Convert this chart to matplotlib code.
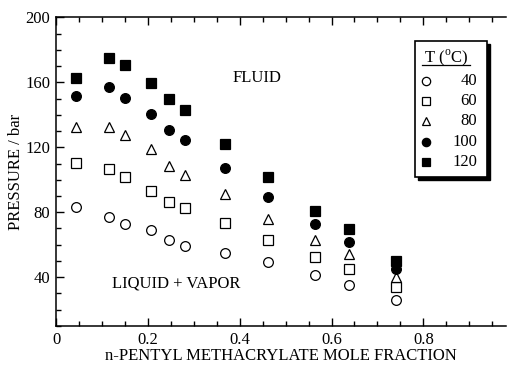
import matplotlib
matplotlib.use("Agg")
import matplotlib.pyplot as plt
from matplotlib.patches import Rectangle
from matplotlib.ticker import MultipleLocator

plt.rcParams['font.family'] = ['Liberation Serif', 'DejaVu Serif']
plt.rcParams['mathtext.fontset'] = 'custom'
plt.rcParams['mathtext.rm'] = 'Liberation Serif'

# mole fraction of n-pentyl methacrylate
x = [0.043, 0.115, 0.151, 0.207, 0.246, 0.281, 0.369, 0.462, 0.565, 0.639, 0.741]

# pressure (bar) for each temperature
p40 = [83.0, 76.8, 72.9, 68.9, 62.7, 59.3, 54.6, 49.3, 41.3, 35.5, 26.1]
p60 = [110.5, 106.5, 101.4, 93.0, 86.4, 82.8, 73.1, 63.1, 52.3, 44.8, 34.2]
p80 = [132.7, 132.7, 127.6, 119.1, 108.3, 103.1, 91.3, 75.9, 62.7, 54.0, 40.1]
p100 = [151.6, 156.8, 150.2, 140.5, 130.9, 124.6, 107.2, 89.6, 72.7, 61.7, 44.8]
p120 = [162.9, 175.0, 170.6, 159.8, 149.6, 143.1, 121.7, 101.8, 81.0, 69.8, 49.9]

temps = ["40", "60", "80", "100", "120"]
series = [p40, p60, p80, p100, p120]
markers = ["o", "s", "^", "o", "s"]
faces = ["white", "white", "white", "black", "black"]
sizes = [7, 7, 7.5, 7, 7]

fig = plt.figure(figsize=(5.07, 3.65), dpi=100)
ax = fig.add_axes([0.1105, 0.107, 0.8875, 0.8456])

for p, m, fc, ms in zip(series, markers, faces, sizes):
    ax.plot(x, p, linestyle="none", marker=m, markersize=ms,
            markerfacecolor=fc, markeredgecolor="black", markeredgewidth=0.9,
            clip_on=False)

ax.set_xlim(0, 0.98)
ax.set_ylim(10, 200)
ax.xaxis.set_major_locator(MultipleLocator(0.2))
ax.xaxis.set_minor_locator(MultipleLocator(0.05))
ax.yaxis.set_major_locator(MultipleLocator(40))
ax.yaxis.set_minor_locator(MultipleLocator(10))
ax.set_xticks([0, 0.2, 0.4, 0.6, 0.8])
ax.set_xticklabels(["0", "0.2", "0.4", "0.6", "0.8"])
ax.set_yticks([40, 80, 120, 160, 200])

ax.spines['right'].set_visible(False)
for s in ['left', 'top', 'bottom']:
    ax.spines[s].set_linewidth(1.1)
ax.tick_params(which='both', direction='in', top=True, right=False,
               labelsize=12, width=1)
ax.tick_params(which='major', length=6, pad=4)
ax.tick_params(which='minor', length=3.5)

ax.set_xlabel("n-PENTYL METHACRYLATE MOLE FRACTION", fontsize=12, labelpad=0)
ax.set_ylabel("PRESSURE / bar", fontsize=12, labelpad=1)

ax.text(0.437, 162.4, "FLUID", fontsize=12, ha="center", va="center")
ax.text(0.262, 36.0, "LIQUID + VAPOR", fontsize=12, ha="center", va="center")

# legend box drawn by hand (black drop shadow, underlined title)
tr = ax.transAxes
bx0, by0, bw, bh = 0.798, 0.483, 0.160, 0.440
ax.add_patch(Rectangle((bx0 + 0.006, by0 - 0.009), bw, bh, transform=tr,
                       facecolor="black", edgecolor="black", clip_on=False, zorder=5))
ax.add_patch(Rectangle((bx0, by0), bw, bh, transform=tr, facecolor="white",
                       edgecolor="black", linewidth=1.2, clip_on=False, zorder=6))
ax.text(bx0 + bw / 2 - 0.012, 0.870, r"T ($^{\mathrm{o}}$C)", transform=tr,
        fontsize=12, ha="center", va="center", zorder=7)
ax.plot([0.813, 0.920], [0.845, 0.845], transform=tr, color="black",
        linewidth=0.9, clip_on=False, zorder=7)
for i, (t, m, fc) in enumerate(zip(temps, markers, faces)):
    yy = 0.794 - i * 0.0655
    ax.plot([0.822], [yy], transform=tr, marker=m, markersize=6,
            markerfacecolor=fc, markeredgecolor="black", markeredgewidth=0.9,
            linestyle="none", clip_on=False, zorder=7)
    ax.text(0.936, yy, t, transform=tr, fontsize=12, ha="right", va="center",
            zorder=7)

fig.savefig("out.png", dpi=100)
